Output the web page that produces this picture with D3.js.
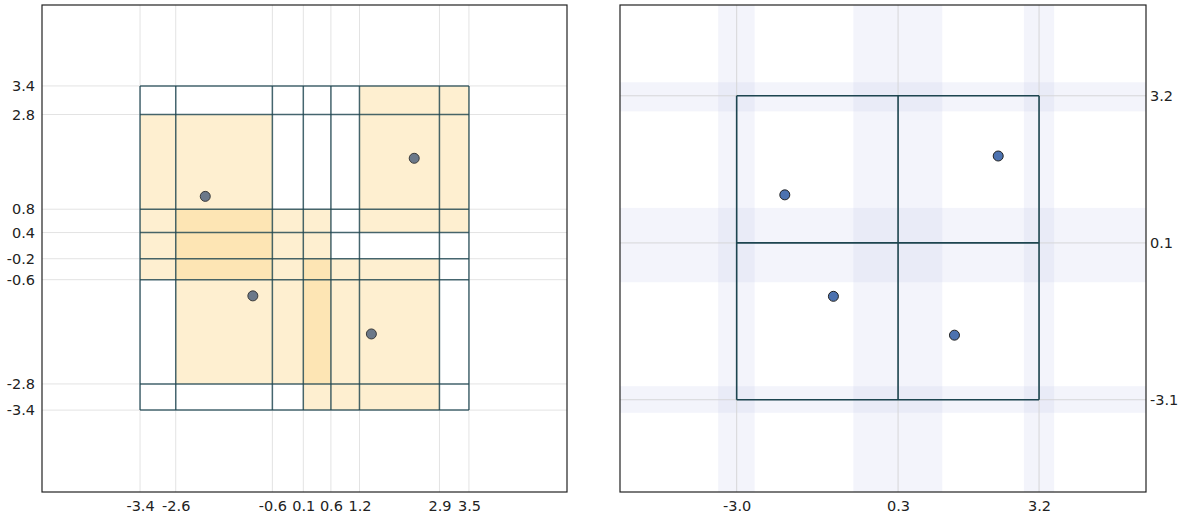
<!DOCTYPE html>
<html>
<head>
<meta charset="utf-8">
<script src="https://cdn.jsdelivr.net/npm/d3@7"></script>
<style>
  html, body { margin: 0; padding: 0; background: #fff; }
  svg { display: block; }
</style>
</head>
<body>
<svg id="chart" width="1189" height="519"></svg>
<script>
// ---------- DATA ----------
// points (shared by both panels)
const pointX = [-2.00, -1.00, 2.39, 1.49];
const pointY = [1.12, -0.97, 1.92, -1.77];

// left panel: one box per point
const boxX0 = [-3.37, -2.62, 1.24, 0.06];
const boxX1 = [-0.59, 0.64, 3.54, 2.92];
const boxY0 = [-0.63, -2.82, 0.36, -3.37];
const boxY1 = [2.84, 0.85, 3.44, -0.19];

// left panel tick values (all box edges)
const leftXTicks = [-3.37, -2.62, -0.59, 0.06, 0.64, 1.24, 2.92, 3.54];
const leftYTicks = [3.44, 2.84, 0.85, 0.36, -0.19, -0.63, -2.82, -3.37];

// right panel: merged grid lines and their spread bands
const rightXTicks = [-2.99, 0.33, 3.23];
const rightYTicks = [3.16, 0.13, -3.10];
const rightXBandLo = [-3.37, -0.59, 2.92];
const rightXBandHi = [-2.62, 1.24, 3.54];
const rightYBandLo = [2.84, -0.68, -3.37];
const rightYBandHi = [3.44, 0.85, -2.82];

// ---------- SETUP ----------
const svg = d3.select("#chart");
const fmt = d3.formatLocale({ decimal: ".", thousands: ",", grouping: [3], currency: ["$", ""], minus: "-" }).format(".1f");
const teal = "#1d4550";
function styleAxis(a) {
  a.select(".domain").remove();
  a.selectAll("text")
    .style("font-family", "'DejaVu Sans', sans-serif")
    .style("font-size", "14.5px")
    .attr("fill", "#222");
}

// ---------- LEFT PANEL ----------
const L = { x0: 42, x1: 567, y0: 5, y1: 492 };
const xL = d3.scaleLinear().domain([-5.43, 5.60]).range([L.x0, L.x1]);
const yL = d3.scaleLinear().domain([-5.09, 5.14]).range([L.y1, L.y0]);
const gL = svg.append("g");

// light grid
gL.append("g").selectAll("line").data(leftXTicks).join("line")
  .attr("x1", d => xL(d)).attr("x2", d => xL(d))
  .attr("y1", L.y0).attr("y2", L.y1)
  .attr("stroke", "#e3e3e3").attr("stroke-width", 1);
gL.append("g").selectAll("line").data(leftYTicks).join("line")
  .attr("y1", d => yL(d)).attr("y2", d => yL(d))
  .attr("x1", L.x0).attr("x2", L.x1)
  .attr("stroke", "#e3e3e3").attr("stroke-width", 1);

// box fills
const boxes = d3.range(boxX0.length).map(i => ({ x0: boxX0[i], x1: boxX1[i], y0: boxY0[i], y1: boxY1[i] }));
gL.append("g").selectAll("rect").data(boxes).join("rect")
  .attr("x", d => xL(d.x0)).attr("width", d => xL(d.x1) - xL(d.x0))
  .attr("y", d => yL(d.y1)).attr("height", d => yL(d.y0) - yL(d.y1))
  .attr("fill", "#fdd68a").attr("fill-opacity", 0.4);

// dark grid over the bounding box of all edges
const exMin = d3.min(leftXTicks), exMax = d3.max(leftXTicks);
const eyMin = d3.min(leftYTicks), eyMax = d3.max(leftYTicks);
gL.append("g").selectAll("line").data(leftXTicks).join("line")
  .attr("x1", d => xL(d)).attr("x2", d => xL(d))
  .attr("y1", yL(eyMax)).attr("y2", yL(eyMin))
  .attr("stroke", teal).attr("stroke-width", 1.5).attr("stroke-opacity", 0.8);
gL.append("g").selectAll("line").data(leftYTicks).join("line")
  .attr("y1", d => yL(d)).attr("y2", d => yL(d))
  .attr("x1", xL(exMin)).attr("x2", xL(exMax))
  .attr("stroke", teal).attr("stroke-width", 1.5).attr("stroke-opacity", 0.8);

// points
gL.append("g").selectAll("circle").data(pointX).join("circle")
  .attr("cx", d => xL(d)).attr("cy", (d, i) => yL(pointY[i])).attr("r", 5)
  .attr("fill", "#6b7889").attr("stroke", "#3a3a3a").attr("stroke-width", 1);

// frame
gL.append("rect").attr("x", L.x0).attr("y", L.y0)
  .attr("width", L.x1 - L.x0).attr("height", L.y1 - L.y0)
  .attr("fill", "none").attr("stroke", "#222").attr("stroke-width", 1.2);

// axes
const axLB = gL.append("g").attr("transform", `translate(0,${L.y1})`)
  .call(d3.axisBottom(xL).tickValues(leftXTicks).tickFormat(fmt).tickSize(0).tickPadding(9));
const axLL = gL.append("g").attr("transform", `translate(${L.x0},0)`)
  .call(d3.axisLeft(yL).tickValues(leftYTicks).tickFormat(fmt).tickSize(0).tickPadding(7));
styleAxis(axLB); styleAxis(axLL);

// ---------- RIGHT PANEL ----------
const R = { x0: 620, x1: 1146, y0: 5, y1: 492 };
const xR = d3.scaleLinear().domain([-5.39, 5.43]).range([R.x0, R.x1]);
const yR = d3.scaleLinear().domain([-5.00, 5.03]).range([R.y1, R.y0]);
const gR = svg.append("g");

// bands
gR.append("g").selectAll("rect").data(rightXBandLo).join("rect")
  .attr("x", d => xR(d)).attr("width", (d, i) => xR(rightXBandHi[i]) - xR(d))
  .attr("y", R.y0).attr("height", R.y1 - R.y0)
  .attr("fill", "#c5cae9").attr("fill-opacity", 0.2);
gR.append("g").selectAll("rect").data(rightYBandLo).join("rect")
  .attr("y", (d, i) => yR(rightYBandHi[i])).attr("height", (d, i) => yR(d) - yR(rightYBandHi[i]))
  .attr("x", R.x0).attr("width", R.x1 - R.x0)
  .attr("fill", "#c5cae9").attr("fill-opacity", 0.2);

// gray lines
gR.append("g").selectAll("line").data(rightXTicks).join("line")
  .attr("x1", d => xR(d)).attr("x2", d => xR(d))
  .attr("y1", R.y0).attr("y2", R.y1)
  .attr("stroke", "#d6d6d8").attr("stroke-width", 1);
gR.append("g").selectAll("line").data(rightYTicks).join("line")
  .attr("y1", d => yR(d)).attr("y2", d => yR(d))
  .attr("x1", R.x0).attr("x2", R.x1)
  .attr("stroke", "#d6d6d8").attr("stroke-width", 1);

// dark grid
const rxMin = d3.min(rightXTicks), rxMax = d3.max(rightXTicks);
const ryMin = d3.min(rightYTicks), ryMax = d3.max(rightYTicks);
gR.append("g").selectAll("line").data(rightXTicks).join("line")
  .attr("x1", d => xR(d)).attr("x2", d => xR(d))
  .attr("y1", yR(ryMax)).attr("y2", yR(ryMin))
  .attr("stroke", teal).attr("stroke-width", 1.6);
gR.append("g").selectAll("line").data(rightYTicks).join("line")
  .attr("y1", d => yR(d)).attr("y2", d => yR(d))
  .attr("x1", xR(rxMin)).attr("x2", xR(rxMax))
  .attr("stroke", teal).attr("stroke-width", 1.6);

// points
gR.append("g").selectAll("circle").data(pointX).join("circle")
  .attr("cx", d => xR(d)).attr("cy", (d, i) => yR(pointY[i])).attr("r", 5)
  .attr("fill", "#4c72b0").attr("stroke", "#222").attr("stroke-width", 1);

// frame
gR.append("rect").attr("x", R.x0).attr("y", R.y0)
  .attr("width", R.x1 - R.x0).attr("height", R.y1 - R.y0)
  .attr("fill", "none").attr("stroke", "#222").attr("stroke-width", 1.2);

// axes
const axRB = gR.append("g").attr("transform", `translate(0,${R.y1})`)
  .call(d3.axisBottom(xR).tickValues(rightXTicks).tickFormat(fmt).tickSize(0).tickPadding(9));
const axRR = gR.append("g").attr("transform", `translate(${R.x1},0)`)
  .call(d3.axisRight(yR).tickValues(rightYTicks).tickFormat(fmt).tickSize(0).tickPadding(4));
styleAxis(axRB); styleAxis(axRR);
</script>
</body>
</html>
